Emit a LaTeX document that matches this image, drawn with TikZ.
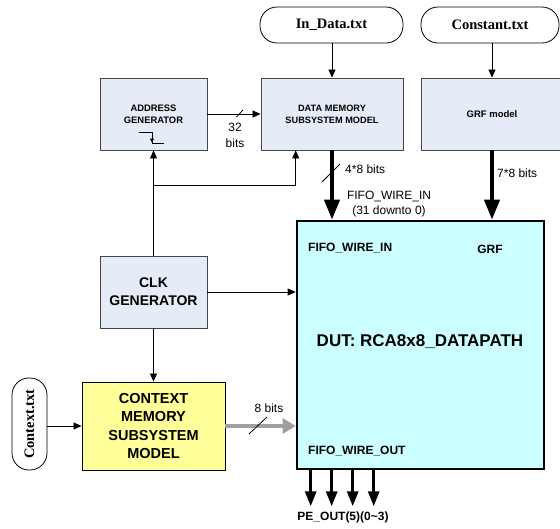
\documentclass[tikz,border=0pt]{standalone}
\usepackage{fontspec}
\setmainfont{Liberation Sans}
\newfontfamily\tms{Liberation Serif}
\usetikzlibrary{arrows.meta,calc}
\definecolor{boxfill}{RGB}{230,236,247}
\definecolor{boxline}{RGB}{70,70,70}
\definecolor{dutfill}{RGB}{204,255,255}
\definecolor{ctxfill}{RGB}{255,255,153}
\definecolor{grayarrow}{RGB}{160,160,160}
\tikzset{
  box/.style={draw=boxline, line width=0.9pt, fill=boxfill, align=center, inner sep=0pt, font=\bfseries},
  dutbox/.style={draw=black, line width=2.6pt, fill=dutfill, inner sep=0pt, minimum width=247pt, minimum height=248pt},
  file/.style={draw=black, line width=0.8pt, rounded corners=17pt, inner sep=0pt, font=\tms\bfseries\fontsize{14.5}{16}\selectfont},
  lbl/.style={inner sep=0pt, font=\fontsize{12}{15}\selectfont, align=center},
  blbl/.style={inner sep=0pt, font=\bfseries\fontsize{12}{15}\selectfont},
  arr/.style={line width=0.8pt, -{Triangle[length=8pt,width=7pt]}},
  bigarr/.style={line width=4pt, -{Triangle[length=20pt,width=15pt]}},
  grayarr/.style={draw=grayarrow, line width=4pt, -{Triangle[length=13pt,width=15pt]}},
  outarr/.style={line width=3pt, -{Triangle[length=15pt,width=11pt]}},
  slash/.style={line width=0.8pt}
}
\begin{document}
\begin{tikzpicture}[x=1pt,y=-1pt]
\useasboundingbox (0,0) rectangle (560,528);
\clip (0,0) rectangle (560,528);
% files
\node[file, minimum width=143pt, minimum height=36pt] (indata) at (331.5,25) {\raisebox{2pt}{In\_Data.txt}};
\node[file, minimum width=138pt, minimum height=36pt] (const) at (490,25) {Constant.txt};
\node[file, minimum width=92pt, minimum height=35pt, rotate=90] (ctxf) at (29.5,424) {Context.txt};
% boxes
\node[box, minimum width=107pt, minimum height=72pt, font=\bfseries\fontsize{9.4}{12}\selectfont] (addr) at (153.5,114) {ADDRESS\\GENERATOR};
\node[box, minimum width=142pt, minimum height=72pt, font=\bfseries\fontsize{9.2}{12}\selectfont] (data) at (332,114) {DATA MEMORY\\SUBSYSTEM MODEL};
\node[box, minimum width=142pt, minimum height=72pt, font=\bfseries\fontsize{9.5}{12}\selectfont] (grf) at (492,114) {GRF model};
\node[box, minimum width=107pt, minimum height=72pt, font=\bfseries\fontsize{14}{18}\selectfont] (clk) at (153.5,292) {CLK\\GENERATOR};
\node[box, fill=ctxfill, draw=black, minimum width=143pt, minimum height=88pt, font=\bfseries\fontsize{14.5}{18.3}\selectfont] (ctx) at (153.5,426) {CONTEXT\\MEMORY\\SUBSYSTEM\\MODEL};
\node[dutbox] (dut) at (420.5,345) {};
% clock symbol in address generator
\draw[line width=0.8pt] ($(addr.center)+(-14.5,18)$) -| ($(addr.center)+(-1.5,29)$) -- ($(addr.center)+(10.5,29)$);
\draw[line width=0.6pt, -{Triangle[length=4pt,width=4pt]}] ($(addr.center)+(-1.5,20)$) -- ($(addr.center)+(-1.5,28.5)$);
% texts in DUT
\node[blbl, anchor=west] (fwi) at (308,248) {FIFO\_WIRE\_IN};
\node[blbl] (grflbl) at (490,249) {GRF};
\node[inner sep=0pt, font=\bfseries\fontsize{17}{20}\selectfont] (dutlbl) at (420,342) {DUT: RCA8x8\_DATAPATH};
\node[blbl, anchor=west] (fwo) at (308,451) {FIFO\_WIRE\_OUT};
% connectors
\draw[arr] (indata.south -| data.north) -- (data.north);
\draw[arr] (const.south -| grf.north) -- (grf.north);
\draw[arr] (addr.east) -- (data.west);
\draw[bigarr] (data.south) -- (data.south |- dut.north);
\draw[bigarr] (grf.south) -- (grf.south |- dut.north);
\draw[arr] (clk.north) -- (addr.south);
\coordinate (br) at ($(clk.north)+(0,-70)$);
\draw[arr] (br) -| (dut.west |- data.south);
\draw[arr] (clk.east) -- (clk.east -| dut.west);
\draw[arr] (clk.south) -- (ctx.north);
\draw[arr] (ctx.west -| ctxf.south) -- (ctx.west);
\draw[grayarr] (ctx.east) -- (ctx.east -| dut.west);
\foreach \i/\dx in {1/15,2/36,3/57,4/78} {
  \coordinate (o\i) at ($(dut.south west)+(\dx,0)$);
  \draw[outarr] (o\i) -- ++(0,36);
}
% slashes
\draw[slash] (236.5,117) -- (243,110);
\draw[slash] (322,182) -- (340,164);
\draw[slash, draw=black] (249,434) -- (267,417);
% labels
\node[lbl, font=\fontsize{12}{16}\selectfont] (l32) at (235,135) {32\\bits};
\node[lbl, anchor=west] (l48) at (345,169) {4*8 bits};
\node[lbl] (lfifo) at (389,204.5) {FIFO\_WIRE\_IN\\(31 downto 0)};
\node[lbl, anchor=west] (l78) at (497,173) {7*8 bits};
\node[lbl] (l8) at (269,408) {8 bits};
\node[blbl] (peout) at (343,517) {PE\_OUT(5)(0\textasciitilde3)};
\end{tikzpicture}
\end{document}
